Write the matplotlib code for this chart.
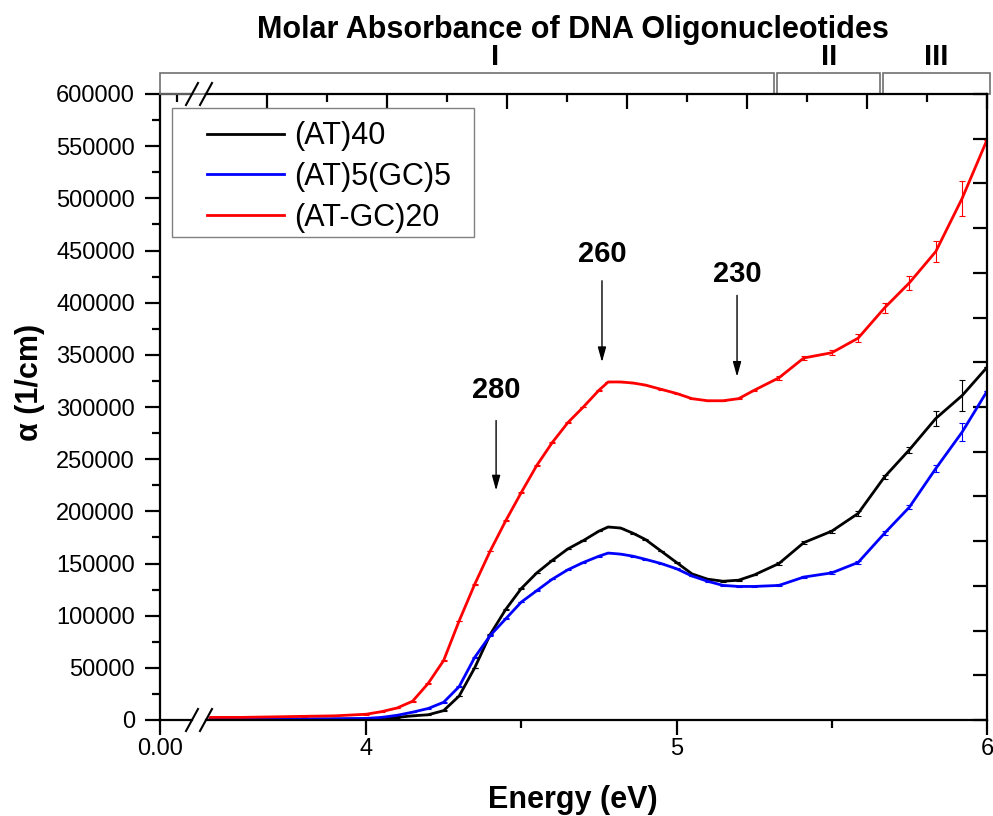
import matplotlib
matplotlib.use("Agg")
import matplotlib.pyplot as plt
import numpy as np
from matplotlib.lines import Line2D
from matplotlib.patches import Rectangle

plt.rcParams["font.family"] = ["Liberation Sans", "DejaVu Sans"]

# Data (energy in eV, alpha in 1/cm)
energy = [3.50, 3.60, 3.70, 3.80, 3.90, 4.00, 4.05, 4.10, 4.15, 4.20,
          4.25, 4.30, 4.35, 4.40, 4.45, 4.50, 4.55, 4.60, 4.65, 4.70,
          4.75, 4.78, 4.82, 4.86, 4.90, 4.95, 5.00, 5.05, 5.10, 5.15,
          5.20, 5.25, 5.33, 5.41, 5.50, 5.585, 5.67, 5.75, 5.835, 5.92, 6.00]

at40 = [500, 500, 600, 700, 800, 1000, 1500, 2500, 4000, 5000,
        9000, 23000, 50000, 82000, 106000, 126000, 141000, 153000, 164000, 172000,
        181000, 185000, 184000, 179000, 173000, 162000, 151000, 140000, 135000, 133000,
        134000, 139000, 150000, 170000, 181000, 198000, 233000, 259000, 289000, 311000, 338000]

at5gc5 = [1000, 1000, 1000, 1100, 1200, 1500, 2500, 4500, 7500, 11000,
          17000, 32000, 60000, 81000, 97000, 113000, 124000, 135000, 144000, 151000,
          157000, 160000, 159000, 157000, 154000, 150000, 145000, 138000, 133000, 129000,
          128000, 128000, 129000, 137000, 141000, 151000, 179000, 204000, 241000, 276000, 315000]

atgc20 = [2500, 2500, 3000, 3500, 4000, 5500, 8000, 11500, 18000, 35000,
          57000, 95000, 130000, 162000, 191000, 218000, 244000, 266000, 285000, 300000,
          316000, 324000, 324000, 323000, 321000, 317000, 313000, 308000, 306000, 306000,
          308000, 316000, 328000, 347000, 352000, 366000, 395000, 419000, 449000, 500000, 556000]

at40_err = [300] * 32 + [1500, 1500, 1500, 2000, 2000, 3000, 7000, 15000, 0]
at5gc5_err = [300] * 32 + [1000, 1000, 1500, 1500, 2000, 2000, 3000, 9000, 0]
atgc20_err = [300] * 32 + [2000, 2000, 2500, 3500, 5000, 7000, 10000, 17000, 0]

series_labels = ["(AT)40", "(AT)5(GC)5", "(AT-GC)20"]
series_colors = ["#000000", "#0000ff", "#ff0000"]

peak_labels = ["280", "260", "230"]
peak_energy = [4.419, 4.760, 5.195]
peak_text_y = [316000, 447000, 427000]
peak_arrow_top = [287000, 421000, 407000]
peak_arrow_tip = [220000, 343000, 329000]

region_labels = ["I", "II", "III"]
region_left = [None, 5.325, 5.664]
region_right = [5.315, 5.655, 6.01]
region_label_x = [4.415, 5.49, 5.835]

W, H = 993, 816
fig = plt.figure(figsize=(W / 100, H / 100), dpi=100)

def fx(px):
    return px / W

def fy(py):
    return 1 - py / H

ax_bot, ax_top = fy(720), fy(94)
ax0 = fig.add_axes([fx(160), ax_bot, fx(192) - fx(160), ax_top - ax_bot])
ax = fig.add_axes([fx(206), ax_bot, fx(987) - fx(206), ax_top - ax_bot])

ymax = 600000
for a in (ax0, ax):
    a.set_ylim(0, ymax)
    for s in a.spines.values():
        s.set_linewidth(1.6)
    a.patch.set_alpha(0)

ax0.set_xlim(0, 0.1)
ax.set_xlim(6 - (987 - 206) / 310.5, 6.0)

# Left segment: y axis with labels
ax0.spines["right"].set_visible(False)
ax0.set_yticks(np.arange(0, ymax + 1, 50000))
ax0.set_yticks(np.arange(25000, ymax, 50000), minor=True)
ax0.set_yticklabels([f"{int(v)}" for v in np.arange(0, ymax + 1, 50000)])
ax0.set_xticks([0])
ax0.set_xticklabels(["0.00"])
ax0.set_xticks([0.053], minor=True)
ax0.tick_params(axis="y", which="major", direction="out", length=11, width=1.6,
                labelsize=17, pad=7)
ax0.tick_params(axis="y", which="minor", direction="out", length=6, width=1.6)
ax0.tick_params(axis="x", which="major", direction="out", length=11, width=1.6,
                labelsize=17, pad=2)
ax0.tick_params(axis="x", which="minor", bottom=False, top=True, direction="in",
                length=6, width=1.6)

# Right segment
ax.spines["left"].set_visible(False)
ax.set_xticks([4, 5, 6])
ax.set_xticks([4.5, 5.5], minor=True)
ax.tick_params(axis="x", which="major", direction="out", length=11, width=1.6,
               labelsize=17, pad=2)
ax.tick_params(axis="x", which="minor", direction="out", length=6, width=1.6)
ax.tick_params(axis="y", left=False, labelleft=False, right=True, direction="in",
               length=10, width=1.6)
ax.set_yticks(np.linspace(0, ymax, 15))
ax.tick_params(axis="y", which="minor", left=False, right=False)

# top ticks of right segment
axt = ax.twiny()
axt.set_xlim(ax.get_xlim())
top_major = 6.0 - 0.3865 * np.arange(0, 7)
axt.set_xticks(top_major)
axt.set_xticks(top_major[:-1] - 0.19325, minor=True)
axt.tick_params(axis="x", which="major", direction="in", length=11, width=1.6,
                labeltop=False)
axt.tick_params(axis="x", which="minor", direction="in", length=6, width=1.6)
for s in axt.spines.values():
    s.set_visible(False)

# the curves
for seg in (ax0, ax):
    for y, err, c in zip([at40, at5gc5, atgc20], [at40_err, at5gc5_err, atgc20_err],
                         series_colors):
        seg.errorbar(energy, y, yerr=err, color=c, lw=2.0, elinewidth=0.8,
                     capsize=2.2, capthick=0.8)

# arrows and wavelength labels
for lab, e, ty, y0, y1 in zip(peak_labels, peak_energy, peak_text_y,
                              peak_arrow_top, peak_arrow_tip):
    ax.annotate("", xy=(e, y1), xytext=(e, y0),
                arrowprops=dict(arrowstyle="-|>,head_length=0.9,head_width=0.25",
                                color="black", lw=1.0, shrinkA=0, shrinkB=0))
    ax.text(e, ty, lab, ha="center", va="center", fontsize=21, fontweight="bold")

# region boxes above the plot
btr = matplotlib.transforms.blended_transform_factory(ax.transData, ax.transAxes)
box_h = 21 / 626
x_first = ax.transData.inverted().transform(ax0.transAxes.transform((0, 0)))[0]
for lab, l, r, lx in zip(region_labels, region_left, region_right, region_label_x):
    if l is None:
        l = x_first
    rect = Rectangle((l, 1.0), r - l, box_h, transform=btr, fill=False,
                     edgecolor="#707070", lw=1.2, clip_on=False)
    ax.add_patch(rect)
    ax.text(lx, (720 - 57) / 626, lab, transform=btr,
            ha="center", va="center", fontsize=21, fontweight="bold")

# axis break marks
for yb in (720, 94):
    for xb in (192, 206):
        fig.add_artist(Line2D([fx(xb - 6), fx(xb + 6)], [fy(yb + 11), fy(yb - 11)],
                              color="black", lw=1.5))

# legend
fig.add_artist(Rectangle((fx(172), fy(237)), fx(474) - fx(172), fy(108) - fy(237),
                         transform=fig.transFigure, fill=False,
                         edgecolor="#808080", lw=1.0))
handles = [Line2D([], [], color=c, lw=2.0) for c in series_colors]
fig.legend(handles, series_labels, loc="upper left",
           bbox_to_anchor=(fx(192), fy(106)), frameon=False, borderpad=0,
           handlelength=2.52, handletextpad=0.33, labelspacing=0.35, fontsize=22)

fig.text(fx(573), fy(30), "Molar Absorbance of DNA Oligonucleotides",
         ha="center", va="center", fontsize=22, fontweight="bold")
fig.text(fx(573), fy(800), "Energy (eV)", ha="center", va="center",
         fontsize=22, fontweight="bold")
fig.text(fx(30), fy(382), "α (1/cm)", ha="center", va="center", rotation=90,
         fontsize=22, fontweight="bold")

fig.savefig("out.png", dpi=100)
